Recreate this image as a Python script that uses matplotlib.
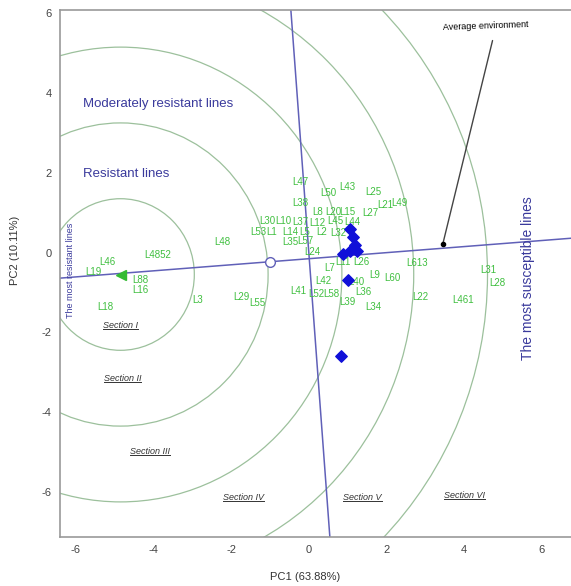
import matplotlib
matplotlib.use("Agg")
import matplotlib.pyplot as plt
from matplotlib.patches import Circle
from matplotlib.lines import Line2D

plt.rcParams['font.family'] = ['Liberation Sans', 'DejaVu Sans']
plt.rcParams['axes.unicode_minus'] = False

# genotype (line) labels and their PC1 / PC2 scores
genotypes = ["L48", "L4852", "L46", "L19", "L88", "L16", "L18", "L3", "L29", "L55",
             "L47", "L50", "L43", "L25", "L38", "L21", "L49", "L27", "L8", "L20",
             "L15", "L30", "L10", "L37", "L12", "L45", "L44", "L53", "L1", "L14",
             "L5", "L2", "L32", "L35", "L57", "L24", "L7", "L11", "L26", "L9",
             "L60", "L40", "L613", "L22", "L461", "L31", "L28", "L41", "L52", "L58",
             "L36", "L34", "L42", "L39"]
geno_pc1 = [-2.24, -3.89, -5.20, -5.56, -4.35, -4.35, -5.25, -2.86, -1.73, -1.34,
            -0.23, 0.49, 1.00, 1.65, -0.23, 1.96, 2.34, 1.57, 0.23, 0.62,
            1.00, -1.08, -0.67, -0.23, 0.23, 0.67, 1.11, -1.31, -0.95, -0.49,
            -0.10, 0.33, 0.75, -0.49, -0.10, 0.08, 0.54, 0.88, 1.36, 1.70,
            2.16, 1.22, 2.78, 2.86, 3.97, 4.61, 4.84, -0.28, 0.20, 0.58,
            1.40, 1.65, 0.38, 0.98]
geno_pc2 = [0.26, -0.06, -0.24, -0.49, -0.69, -0.94, -1.37, -1.19, -1.12, -1.27,
            1.77, 1.49, 1.64, 1.52, 1.24, 1.19, 1.24, 0.99, 1.02, 1.02,
            1.02, 0.79, 0.79, 0.76, 0.74, 0.79, 0.76, 0.51, 0.51, 0.51,
            0.51, 0.51, 0.49, 0.26, 0.29, 0.01, -0.39, -0.24, -0.24, -0.56,
            -0.64, -0.74, -0.26, -1.12, -1.19, -0.44, -0.76, -0.96, -1.04, -1.04,
            -1.00, -1.37, -0.72, -1.24]

# environments (blue diamonds)
env_pc1 = [1.05, 1.13, 1.18, 1.23, 1.05, 0.87, 1.00, 0.82]
env_pc2 = [0.60, 0.38, 0.18, 0.05, 0.05, -0.03, -0.68, -2.60]

# average environment axis
aea_origin = (0.01, -0.153)
aea_slope = 0.076
avg_env = (3.45, 0.22)
ideal = (-4.85, -0.55)
avg_geno = (-1.0, -0.24)
ring_radii = [1.9, 3.8, 5.7, 7.55, 9.45]

sections = ["Section I", "Section II", "Section III", "Section IV", "Section V", "Section VI"]
section_x = [-4.85, -4.80, -4.08, -1.69, 1.38, 4.00]
section_y = [-1.83, -3.15, -4.98, -6.15, -6.15, -6.10]

xticks = [-6, -4, -2, 0, 2, 4, 6]
yticks = [-6, -4, -2, 0, 2, 4, 6]

fig = plt.figure(figsize=(5.71, 5.86), dpi=100)
ax = fig.add_axes([0.105, 0.0836, 0.895, 0.8993])
ax.set_xlim(-6.41, 6.75)
ax.set_ylim(-7.13, 6.08)

ring_col = "#9cc09c"
for r in ring_radii:
    ax.add_patch(Circle(ideal, r, fill=False, ec=ring_col, lw=0.9, zorder=1))

line_col = "#6060b8"
ax.axline(aea_origin, slope=aea_slope, color=line_col, lw=1.1, zorder=2)
ax.axline(aea_origin, slope=-1 / aea_slope, color=line_col, lw=1.1, zorder=2)

green = "#3fbf3f"
for name, x, y in zip(genotypes, geno_pc1, geno_pc2):
    ax.text(x, y, name, color=green, fontsize=7, ha="center", va="center", zorder=3)

ax.scatter(env_pc1, env_pc2, marker="D", s=34, color="#1010d8", zorder=4)
ax.plot(*ideal, marker="<", ms=7, color="#33bb33", zorder=4)
ax.plot(*avg_geno, marker="o", ms=7, mfc="white", mec=line_col, mew=1.0, zorder=4)
ax.plot(*avg_env, marker="o", ms=3, color="black", zorder=5)

ax.annotate("Average environment", xy=avg_env, xytext=(4.56, 5.67),
            fontsize=6.5, ha="center", va="center", rotation=2,
            arrowprops=dict(arrowstyle="-", color="#444444", lw=1.0,
                            shrinkA=4, shrinkB=0, relpos=(0.6, 0.0)))

label_col = "#3a3a9c"
ax.text(-5.82, 3.72, "Moderately resistant lines", color=label_col, fontsize=9.5,
        ha="left", va="center")
ax.text(-5.82, 1.98, "Resistant lines", color=label_col, fontsize=9.5,
        ha="left", va="center")
ax.text(-6.13, -0.45, "The most resistant lines", color=label_col, fontsize=6.5,
        rotation=90, ha="center", va="center")
ax.text(5.65, -0.65, "The most susceptible lines", color=label_col, fontsize=10,
        rotation=90, ha="center", va="center")

sec_texts = []
for name, x, y in zip(sections, section_x, section_y):
    sec_texts.append(ax.text(x, y, name, color="#333333", fontsize=6.5, style="italic",
                             ha="center", va="center"))

ax.set_xticks(xticks)
ax.set_yticks(yticks)
ax.tick_params(length=0, labelsize=8, labelcolor="#444444", pad=6)
for side in ["left", "bottom", "top"]:
    ax.spines[side].set_color("#999999")
    ax.spines[side].set_linewidth(1.2)
ax.spines["right"].set_visible(False)

fig.text(0.534, 0.015, "PC1 (63.88%)", fontsize=8, color="#333333", ha="center", va="center")
fig.text(0.026, 0.573, "PC2 (10.11%)", fontsize=8, color="#333333", ha="center", va="center",
         rotation=90)

# underline the section labels using their rendered extents
fig.canvas.draw()
renderer = fig.canvas.get_renderer()
inv = fig.transFigure.inverted()
for t in sec_texts:
    bb = t.get_window_extent(renderer)
    (x0, y0), (x1, _) = inv.transform([(bb.x0, bb.y0 + 1), (bb.x1, bb.y0 + 1)])
    fig.add_artist(Line2D([x0, x1], [y0, y0], color="#333333", lw=0.7,
                          transform=fig.transFigure))

fig.savefig("out.png", dpi=100)
